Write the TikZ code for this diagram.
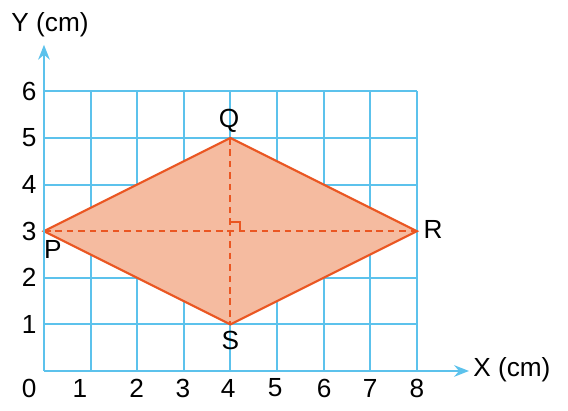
\documentclass[tikz,border=0pt]{standalone}
\usepackage{fontspec}
\setmainfont{Liberation Sans}
\usetikzlibrary{arrows.meta}
\definecolor{gridblue}{RGB}{92,194,236}
\definecolor{rhfill}{RGB}{245,187,160}
\definecolor{rhedge}{RGB}{234,86,34}
\tikzset{
  gridline/.style={gridblue, line width=1.2pt},
  axisline/.style={gridblue, line width=1.6pt, -{Stealth[length=9pt,width=7pt]}},
  lbl/.style={font=\fontsize{16}{19}\selectfont, inner sep=0pt},
  diag/.style={rhedge, line width=1.1pt, dash pattern=on 4pt off 3pt},
}
\begin{document}
\begin{tikzpicture}[x=1cm,y=1cm]
\useasboundingbox (-0.944,-0.858) rectangle (11.245,7.961);
\fill[white] (-0.944,-0.858) rectangle (11.245,7.961);
% grid
\draw[gridline] (0,0) grid (8,6);
% rhombus
\coordinate (P) at (0,3);
\coordinate (Q) at (4,5);
\coordinate (R) at (8,3);
\coordinate (S) at (4,1);
\coordinate (O) at (4,3);
\fill[rhfill] (P) -- (Q) -- (R) -- (S) -- cycle;
\draw[diag] (P) -- (R);
\draw[diag] (Q) -- (S);
\draw[rhedge, line width=1.1pt] (4,3.2) -- (4.2,3.2) -- (4.2,3);
\draw[rhedge, line width=1.3pt, line join=miter] (P) -- (Q) -- (R) -- (S) -- cycle;
% axes
\coordinate (origin) at (0,0);
\coordinate (xend) at (9.12,0);
\coordinate (yend) at (0,7.0);
\draw[axisline] (origin) -- (xend);
\draw[axisline] (origin) -- (yend);
% axis titles
\node[lbl] (xt) at (10.04,0.02) {X (cm)};
\node[lbl] (yt) at (0.13,7.42) {Y (cm)};
% tick labels
\node[lbl] (x0) at (-0.32,-0.365) {0};
\node[lbl] (x1) at (0.77,-0.365) {1};
\node[lbl] (x2) at (1.99,-0.365) {2};
\node[lbl] (x3) at (2.98,-0.365) {3};
\node[lbl] (x4) at (3.95,-0.365) {4};
\node[lbl] (x5) at (4.96,-0.365) {5};
\node[lbl] (x6) at (6.01,-0.365) {6};
\node[lbl] (x7) at (7.0,-0.365) {7};
\node[lbl] (x8) at (8.0,-0.365) {8};
\node[lbl] (y1) at (-0.32,1) {1};
\node[lbl] (y2) at (-0.32,2) {2};
\node[lbl] (y3) at (-0.32,3) {3};
\node[lbl] (y4) at (-0.32,4) {4};
\node[lbl] (y5) at (-0.32,5) {5};
\node[lbl] (y6) at (-0.32,6) {6};
% vertex labels
\node[lbl] (lP) at (0.19,2.6) {P};
\node[lbl] (lQ) at (3.97,5.36) {Q};
\node[lbl] (lR) at (8.35,3.03) {R};
\node[lbl] (lS) at (4.0,0.66) {S};
\end{tikzpicture}
\end{document}
